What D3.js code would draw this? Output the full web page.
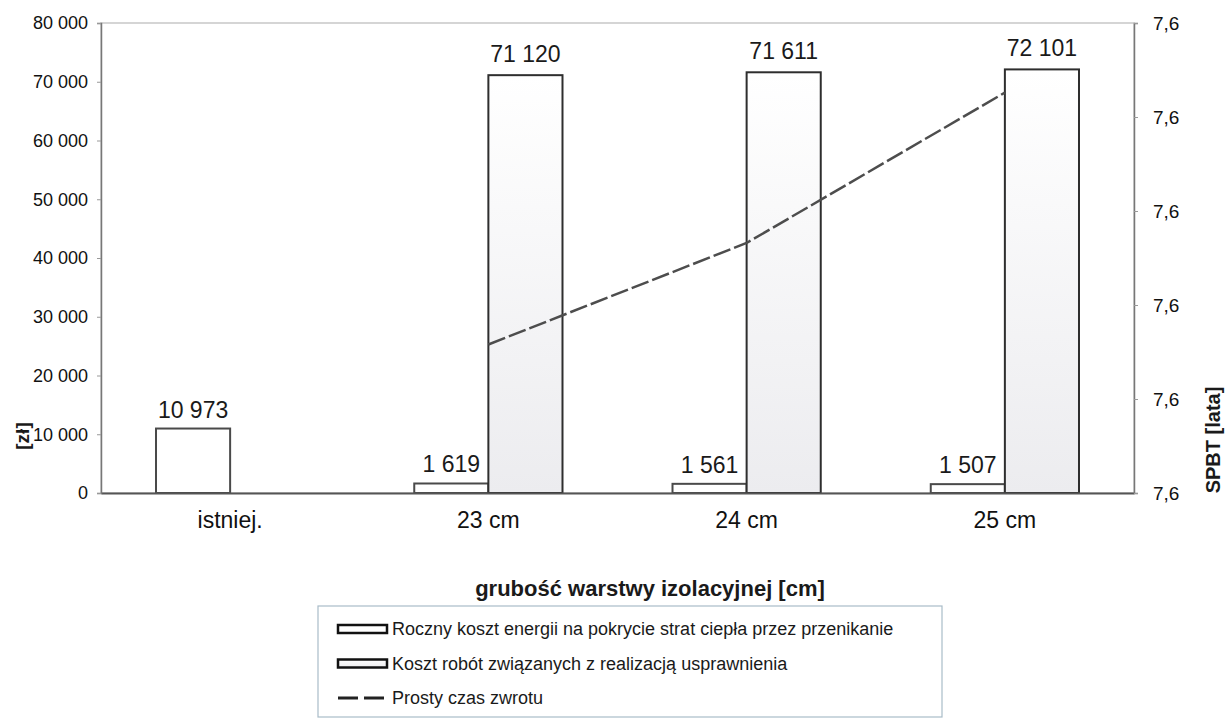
<!DOCTYPE html>
<html>
<head>
<meta charset="utf-8">
<script src="https://cdn.jsdelivr.net/npm/d3@7"></script>
<style>
	body { margin: 0; background: #fff; }
	text { font-family: "Liberation Sans", Arial, sans-serif; fill: #1a1a1a; }
	.tick text { font-size: 18px; fill: #111; }
	.value { font-size: 23px; text-anchor: middle; }
	.title { font-size: 22px; font-weight: bold; }
	.legend text { font-size: 18px; }
</style>
</head>
<body>
<svg class="chart"></svg>
<script>

// data
var categories = ["istniej.", "23 cm", "24 cm", "25 cm"];
var energyCost = [10973, 1619, 1561, 1507];
var workCost = [0, 71120, 71611, 72101];
var spbt = [null, 7.6029, 7.6083, 7.6163];
var leftTicks = [0, 10000, 20000, 30000, 40000, 50000, 60000, 70000, 80000];
var rightTicks = [7.595, 7.6, 7.605, 7.61, 7.615, 7.62];
var legendLabels = ["Roczny koszt energii na pokrycie strat ciepła przez przenikanie",
	"Koszt robót związanych z realizacją usprawnienia",
	"Prosty czas zwrotu"];

var plot = {left: 101, right: 1134, top: 23, bottom: 493};

var pl = d3.formatLocale({decimal: ",", thousands: " ", grouping: [3], currency: ["", " zł"]});
var fmtInt = pl.format(",");
var fmtDec = pl.format(".1f");

var svg = d3.select(".chart")
	.attr("width", 1231)
	.attr("height", 727);

// gradient for the second series
var grad = svg.append("defs").append("linearGradient")
	.attr("id", "workFill")
	.attr("x1", 0).attr("y1", 0).attr("x2", 0).attr("y2", 1);
grad.append("stop").attr("offset", "0%").attr("stop-color", "#ffffff");
grad.append("stop").attr("offset", "100%").attr("stop-color", "#ececef");

// scales
var x = d3.scaleBand()
	.domain(categories)
	.range([plot.left, plot.right]);
var x1 = d3.scaleBand()
	.domain([0, 1])
	.range([0, x.bandwidth() * 0.574]);
var y = d3.scaleLinear()
	.domain([0, 80000])
	.range([plot.bottom, plot.top]);
var y2 = d3.scaleLinear()
	.domain([7.595, 7.62])
	.range([plot.bottom, plot.top]);

function groupX(d) { return x(d) + (x.bandwidth() - x1.range()[1]) / 2; }

// frame
svg.append("rect")
	.attr("x", plot.left)
	.attr("y", plot.top)
	.attr("width", plot.right - plot.left)
	.attr("height", plot.bottom - plot.top)
	.attr("fill", "none")
	.attr("stroke", "#c8c8c8")
	.attr("stroke-width", 1.5);

// bars
var rows = categories.map(function(c, i) {
	return {cat: c, energy: energyCost[i], work: workCost[i], spbt: spbt[i]};
});

var group = svg.selectAll(".grp")
	.data(rows)
.enter().append("g")
	.attr("class", "grp")
	.attr("transform", function(d) { return "translate(" + groupX(d.cat) + ",0)"; });

group.append("rect")
	.attr("x", x1(0))
	.attr("y", function(d) { return y(d.energy); })
	.attr("width", x1.bandwidth())
	.attr("height", function(d) { return plot.bottom - y(d.energy); })
	.attr("fill", "#fff")
	.attr("stroke", "#4a4a4a")
	.attr("stroke-width", 2);

group.filter(function(d) { return d.work > 0; })
	.append("rect")
	.attr("x", x1(1))
	.attr("y", function(d) { return y(d.work); })
	.attr("width", x1.bandwidth())
	.attr("height", function(d) { return plot.bottom - y(d.work); })
	.attr("fill", "url(#workFill)")
	.attr("stroke", "#2e2e2e")
	.attr("stroke-width", 2);

// value labels
group.append("text")
	.attr("class", "value")
	.attr("x", x1(0) + x1.bandwidth() / 2)
	.attr("y", function(d) { return y(d.energy) - 11; })
	.text(function(d) { return fmtInt(d.energy); });

group.filter(function(d) { return d.work > 0; })
	.append("text")
	.attr("class", "value")
	.attr("x", x1(1) + x1.bandwidth() / 2)
	.attr("y", function(d) { return y(d.work) - 13; })
	.text(function(d) { return fmtInt(d.work); });

// payback line
var line = d3.line()
	.defined(function(d) { return d.spbt != null; })
	.x(function(d) { return x(d.cat) + x.bandwidth() / 2; })
	.y(function(d) { return y2(d.spbt); });

svg.append("path")
	.datum(rows)
	.attr("d", line)
	.attr("fill", "none")
	.attr("stroke", "#4d4d4d")
	.attr("stroke-width", 2.5)
	.attr("stroke-dasharray", "18,4");

// axes
var xAxis = svg.append("g")
	.attr("transform", "translate(0," + plot.bottom + ")")
	.call(d3.axisBottom(x).tickSize(0).tickPadding(19));
xAxis.select(".domain").attr("stroke", "#555").attr("stroke-width", 2);
xAxis.selectAll("text").style("font-size", "23px");

var yAxis = svg.append("g")
	.attr("transform", "translate(" + plot.left + ",0)")
	.call(d3.axisLeft(y).tickValues(leftTicks).tickFormat(fmtInt).tickSize(4).tickPadding(9));
yAxis.select(".domain").attr("stroke", "#777").attr("stroke-width", 1.5);
yAxis.selectAll("line").attr("stroke", "#999");

var y2Axis = svg.append("g")
	.attr("transform", "translate(" + plot.right + ",0)")
	.call(d3.axisRight(y2).tickValues(rightTicks).tickFormat(fmtDec).tickSize(4).tickPadding(15));
y2Axis.select(".domain").attr("stroke", "#777").attr("stroke-width", 1.5);
y2Axis.selectAll("line").attr("stroke", "#999");
y2Axis.selectAll("text").style("font-size", "19px");

// axis titles
svg.append("text")
	.attr("class", "title")
	.attr("x", 650)
	.attr("y", 596)
	.attr("text-anchor", "middle")
	.text("grubość warstwy izolacyjnej [cm]");

svg.append("text")
	.attr("class", "title")
	.attr("transform", "translate(29,436) rotate(-90)")
	.attr("text-anchor", "middle")
	.style("font-size", "19px")
	.text("[zł]");

svg.append("text")
	.attr("class", "title")
	.attr("transform", "translate(1220,440) rotate(-90)")
	.attr("text-anchor", "middle")
	.style("font-size", "20px")
	.text("SPBT [lata]");

// legend
var legend = svg.append("g").attr("class", "legend");
legend.append("rect")
	.attr("x", 318).attr("y", 606)
	.attr("width", 624).attr("height", 111)
	.attr("fill", "#fff")
	.attr("stroke", "#a9bcc8")
	.attr("stroke-width", 1.2);

var item = legend.selectAll(".item")
	.data(legendLabels)
.enter().append("g")
	.attr("class", "item")
	.attr("transform", function(d, i) { return "translate(338," + (629 + i * 34.5) + ")"; });

item.filter(function(d, i) { return i < 2; })
	.append("rect")
	.attr("x", 0).attr("y", -4)
	.attr("width", 49).attr("height", 8)
	.attr("fill", function(d, i) { return i == 0 ? "#fff" : "url(#workFill)"; })
	.attr("stroke", "#111")
	.attr("stroke-width", 2.5);

item.filter(function(d, i) { return i == 2; })
	.append("line")
	.attr("x1", 0).attr("x2", 49)
	.attr("stroke", "#222")
	.attr("stroke-width", 3)
	.attr("stroke-dasharray", "20,6");

item.append("text")
	.attr("x", 54)
	.attr("dy", "0.36em")
	.text(function(d) { return d; });

</script>
</body>
</html>
